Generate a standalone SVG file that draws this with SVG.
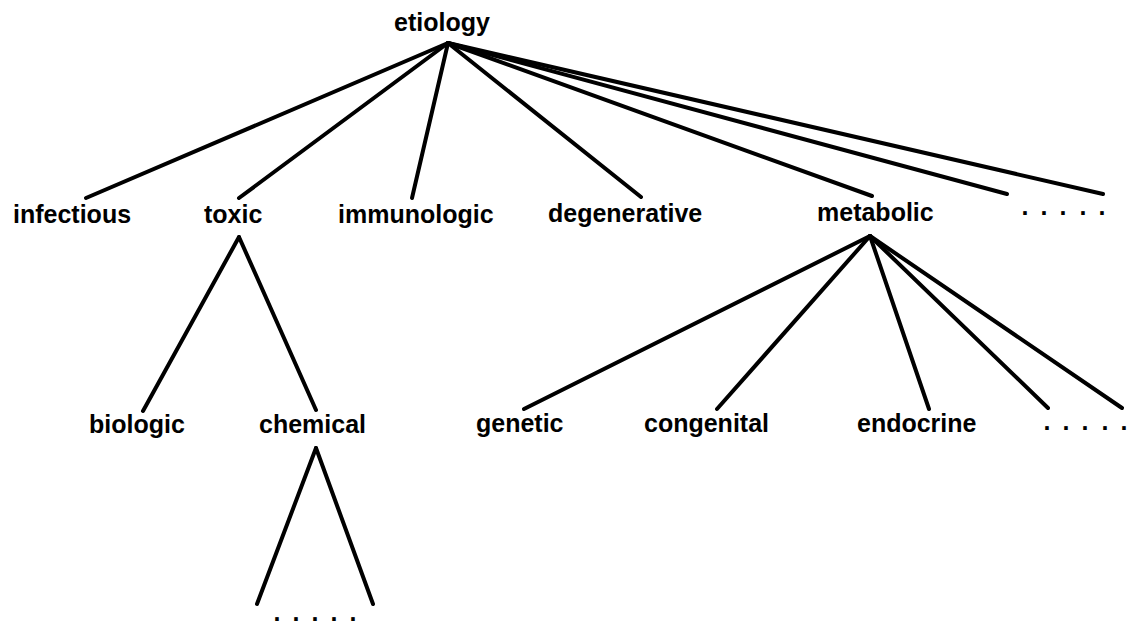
<svg xmlns="http://www.w3.org/2000/svg" width="1129" height="627" viewBox="0 0 1129 627">
<style>
  .lbl { font-family: "Liberation Sans", Arial, Helvetica, sans-serif; font-weight: bold; font-size: 25px; fill: #000; }
  .edge { stroke: #000; stroke-width: 4; stroke-linecap: round; fill: none; }
</style>
<rect width="1129" height="627" fill="#fff"/>
<g id="connectors">
  <line class="edge" x1="448" y1="43" x2="86" y2="198"/>
  <line class="edge" x1="448" y1="43" x2="239" y2="198"/>
  <line class="edge" x1="448" y1="43" x2="412" y2="198"/>
  <line class="edge" x1="448" y1="43" x2="641" y2="197"/>
  <line class="edge" x1="448" y1="43" x2="872" y2="196"/>
  <line class="edge" x1="448" y1="43" x2="1007" y2="194"/>
  <line class="edge" x1="448" y1="43" x2="1103" y2="194"/>
  <line class="edge" x1="239" y1="237" x2="143" y2="411"/>
  <line class="edge" x1="239" y1="237" x2="316" y2="410"/>
  <line class="edge" x1="870" y1="236" x2="524" y2="409"/>
  <line class="edge" x1="870" y1="236" x2="717" y2="409"/>
  <line class="edge" x1="870" y1="236" x2="929" y2="409"/>
  <line class="edge" x1="870" y1="236" x2="1048" y2="408"/>
  <line class="edge" x1="870" y1="236" x2="1122" y2="408"/>
  <line class="edge" x1="316" y1="448" x2="257" y2="604"/>
  <line class="edge" x1="316" y1="448" x2="373" y2="604"/>
</g>
<g id="etiology"><text class="lbl" x="394" y="31">etiology</text></g>
<g id="infectious"><text class="lbl" x="13" y="223">infectious</text></g>
<g id="toxic"><text class="lbl" x="204" y="223">toxic</text></g>
<g id="immunologic"><text class="lbl" x="338" y="223">immunologic</text></g>
<g id="degenerative"><text class="lbl" x="548" y="222">degenerative</text></g>
<g id="metabolic"><text class="lbl" x="817" y="221">metabolic</text></g>
<g id="more-etiology"><text class="lbl" x="1021.5 1040.5 1059.5 1079.5 1098.5" y="215">.....</text></g>
<g id="biologic"><text class="lbl" x="89" y="433">biologic</text></g>
<g id="chemical"><text class="lbl" x="259" y="433">chemical</text></g>
<g id="genetic"><text class="lbl" x="476" y="432">genetic</text></g>
<g id="congenital"><text class="lbl" x="644" y="432">congenital</text></g>
<g id="endocrine"><text class="lbl" x="857" y="432">endocrine</text></g>
<g id="more-metabolic"><text class="lbl" x="1043.5 1062.5 1081.5 1101.5 1120.5" y="430">.....</text></g>
<g id="more-chemical"><text class="lbl" x="273.5 292.5 311.5 330.5 349.5" y="621">.....</text></g>
</svg>
